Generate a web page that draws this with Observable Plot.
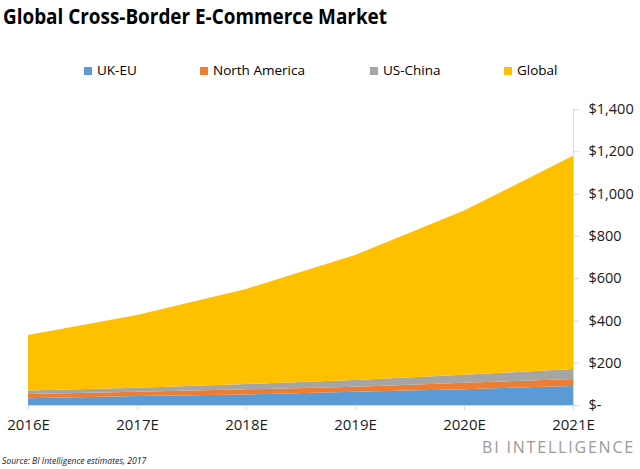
<!DOCTYPE html>
<html>
<head>
<meta charset="utf-8">
<script src="https://cdn.jsdelivr.net/npm/d3@7"></script>
<script src="https://cdn.jsdelivr.net/npm/@observablehq/plot@0.6"></script>
<style>
  html, body { margin: 0; padding: 0; background: #fff; }
  #wrap { position: relative; width: 640px; height: 469px; overflow: hidden; font-family: "Open Sans", sans-serif; color: #000; }
  #title { position: absolute; left: 3px; top: 0px; font-size: 22px; font-weight: 700; white-space: nowrap; transform-origin: 0 0; }
  #legend { position: absolute; left: 0; top: 60px; width: 640px; height: 20px; font-size: 13.5px; }
  .item { position: absolute; top: 0; white-space: nowrap; line-height: 20px; }
  .sw { display: inline-block; width: 8px; height: 8px; margin-right: 5px; vertical-align: 0px; }
  #chart { position: absolute; left: 0; top: 90px; }
  #brand { position: absolute; right: 5px; top: 436px; font-size: 16px; color: #9a9a9a; letter-spacing: 1.8px; white-space: nowrap; }
  #source { position: absolute; left: 2px; top: 455px; font-size: 8.6px; font-style: italic; color: #222; white-space: nowrap; }
</style>
</head>
<body>
<div id="wrap">
  <div id="title">Global Cross-Border E-Commerce Market</div>
  <div id="legend"></div>
  <div id="chart"></div>
  <div id="brand">BI INTELLIGENCE</div>
  <div id="source">Source: BI Intelligence estimates, 2017</div>
</div>
<script>
const years = [2016, 2017, 2018, 2019, 2020, 2021];
const seriesNames = ["UK-EU", "North America", "US-China", "Global"];
const ukEu = [32, 42, 50, 63, 75, 90];
const northAmerica = [20, 21, 24, 23, 30, 33];
const usChina = [16, 19, 25, 32, 38, 47];
const global = [263, 344, 450, 592, 777, 1009];
const yTicks = [0, 200, 400, 600, 800, 1000, 1200, 1400];

const colors = ["#5B9BD5", "#ED7D31", "#A5A5A5", "#FFC000"];
const legendX = [84, 200, 370, 504];

const seriesValues = [ukEu, northAmerica, usChina, global];
const data = [];
seriesNames.forEach((s, i) => {
  years.forEach((yr, j) => data.push({ year: yr, series: s, value: seriesValues[i][j] }));
});

// Legend
const legend = document.getElementById("legend");
seriesNames.forEach((s, i) => {
  const d = document.createElement("div");
  d.className = "item";
  d.style.left = legendX[i] + "px";
  d.innerHTML = `<span class="sw" style="background:${colors[i]}"></span>${s}`;
  legend.appendChild(d);
});

const fmt = d3.format(",");
const plot = Plot.plot({
  width: 640,
  height: 355,
  marginTop: 19,
  marginBottom: 40,
  marginLeft: 28,
  marginRight: 67,
  style: { fontFamily: "'Open Sans', sans-serif", background: "#fff", color: "#222" },
  x: { domain: [2016, 2021], ticks: years, tickFormat: d => d + "E", label: null },
  y: { domain: [0, 1400], ticks: yTicks, label: null },
  color: { domain: seriesNames, range: colors },
  marks: [
    Plot.areaY(data, Plot.stackY({ order: seriesNames }, { x: "year", y: "value", fill: "series" })),
    Plot.ruleY([0], { stroke: "#d9d9d9", strokeWidth: 1 }),
    Plot.ruleX([2021], { stroke: "#d9d9d9", strokeWidth: 1 }),
    Plot.axisX({ ticks: years, tickFormat: d => d + "E", tickSize: 5, tickPadding: 9, stroke: "#d9d9d9", fontSize: 15, fill: "#1a1a1a", label: null }),
    Plot.axisY({ anchor: "right", ticks: yTicks, tickFormat: d => d === 0 ? "$-" : "$" + fmt(d), tickSize: 5, tickPadding: 10, stroke: "#d9d9d9", fontSize: 14.5, fill: "#1a1a1a", textAnchor: "start", label: null })
  ]
});
document.getElementById("chart").appendChild(plot);

// fit title width to reference
const t = document.getElementById("title");
const w = t.getBoundingClientRect().width;
t.style.transform = `scaleX(${384 / w})`;
</script>
</body>
</html>
